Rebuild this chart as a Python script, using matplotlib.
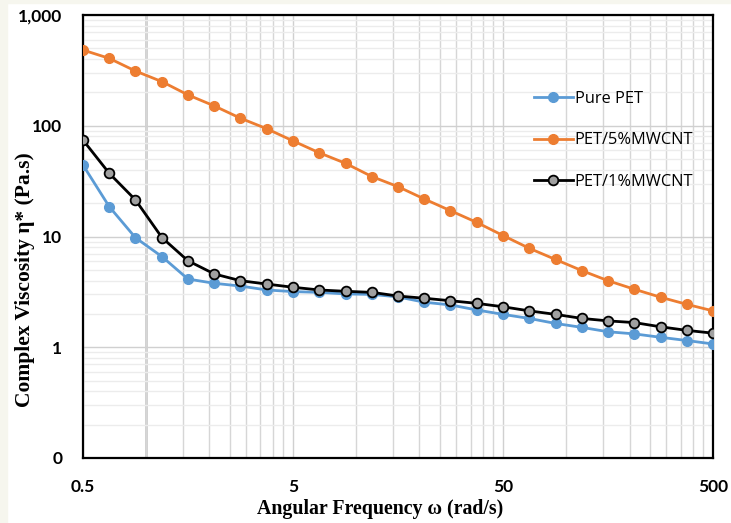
import matplotlib.pyplot as plt
import matplotlib.ticker as mticker
import numpy as np

# angular frequency (rad/s)
omega = [0.5, 0.667, 0.889, 1.19, 1.58, 2.11, 2.81, 3.75, 5.0, 6.67, 8.89, 11.9,
         15.8, 21.1, 28.1, 37.5, 50.0, 66.7, 88.9, 119, 158, 211, 281, 375, 500]

# complex viscosity (Pa.s)
pure_pet = [44.2, 18.6, 9.75, 6.57, 4.13, 3.78, 3.57, 3.29, 3.18, 3.13, 3.03, 3.0,
            2.85, 2.55, 2.41, 2.17, 1.98, 1.82, 1.64, 1.51, 1.38, 1.32, 1.23, 1.15, 1.07]
pet_5 = [483, 406, 312, 250, 190, 151, 117, 94, 73, 57, 45.8, 34.7,
         28.2, 21.8, 17.1, 13.4, 10.2, 7.82, 6.2, 4.91, 3.99, 3.34, 2.83, 2.44, 2.13]
pet_1 = [74.3, 37.2, 21.4, 9.75, 6.04, 4.59, 3.99, 3.72, 3.48, 3.29, 3.20, 3.13,
         2.90, 2.77, 2.63, 2.49, 2.32, 2.13, 1.98, 1.82, 1.73, 1.67, 1.53, 1.42, 1.34]

y_ticks = [0.1, 1, 10, 100, 1000]
y_labels = ["0", "1", "10", "100", "1,000"]
x_ticks = [0.5, 5, 50, 500]
x_labels = ["0.5", "5", "50", "500"]

fig = plt.figure(figsize=(7.31, 5.23), dpi=100)
fig.patch.set_facecolor("white")
# faint cream border like the source screenshot
fig.patches.append(plt.Rectangle((0, 0), 0.01, 1, transform=fig.transFigure,
                                 color="#f6f6ee", zorder=0))
fig.patches.append(plt.Rectangle((0, 0.994), 1, 0.006, transform=fig.transFigure,
                                 color="#f6f6ee", zorder=0))

ax = fig.add_axes([0.1135, 0.1243, 0.862, 0.847])
ax.set_xscale("log")
ax.set_yscale("log")
ax.set_xlim(0.5, 500)
ax.set_ylim(0.1, 1000)

ax.plot(omega, pure_pet, color="#5B9BD5", lw=2.0, marker="o", ms=7,
        mfc="#5B9BD5", mec="#5B9BD5", label="Pure PET", zorder=3)
ax.plot(omega, pet_5, color="#ED7D31", lw=2.0, marker="o", ms=7,
        mfc="#ED7D31", mec="#ED7D31", label="PET/5%MWCNT", zorder=3)
ax.plot(omega, pet_1, color="black", lw=2.0, marker="o", ms=7,
        mfc="#a0a0a0", mec="black", mew=1.3, label="PET/1%MWCNT", zorder=4)

ax.xaxis.set_major_locator(mticker.FixedLocator(x_ticks))
ax.xaxis.set_major_formatter(mticker.FixedFormatter(x_labels))
x_minor = [0.5 * d * k for d in (1, 10, 100) for k in range(2, 10)]
ax.xaxis.set_minor_locator(mticker.FixedLocator(x_minor))
ax.xaxis.set_minor_formatter(mticker.NullFormatter())

ax.yaxis.set_major_locator(mticker.FixedLocator(y_ticks))
ax.yaxis.set_major_formatter(mticker.FixedFormatter(y_labels))
y_minor = [d * k for d in (0.1, 1, 10, 100) for k in range(2, 10)]
ax.yaxis.set_minor_locator(mticker.FixedLocator(y_minor))
ax.yaxis.set_minor_formatter(mticker.NullFormatter())

ax.grid(True, which="major", axis="both", color="#d0d0d0", lw=1.0, zorder=0)
ax.grid(True, which="minor", axis="x", color="#d6d6d6", lw=1.0, zorder=0)
ax.grid(True, which="minor", axis="y", color="#ececec", lw=1.0, zorder=0)
# the x = 1 gridline is a touch heavier in the source
ax.axvline(1.0, color="#c4c4c4", lw=1.8, zorder=0.5)
ax.set_axisbelow(True)

ax.tick_params(which="both", length=0)
ax.tick_params(axis="x", pad=15)
ax.tick_params(axis="y", pad=15)
for lab in ax.get_xticklabels() + ax.get_yticklabels():
    lab.set_fontfamily("Lato")
    lab.set_fontweight("bold")
    lab.set_fontsize(12.5)

for s in ax.spines.values():
    s.set_color("black")
    s.set_linewidth(1.6)

ax.set_xlabel("Angular Frequency ω (rad/s)", family="Liberation Serif",
              fontweight="bold", fontsize=14.3)
ax.xaxis.set_label_coords(0.472, -0.093)
ax.set_ylabel("Complex Viscosity η* (Pa.s)", family="Liberation Serif",
              fontweight="bold", fontsize=15.5)
ax.yaxis.set_label_coords(-0.076, 0.402)

leg = ax.legend(loc="upper left", bbox_to_anchor=(0.692, 0.862), frameon=False,
                prop={"family": "Open Sans", "size": 11.8}, handlelength=2.4,
                handletextpad=0.1, labelspacing=1.55)

fig.savefig("out.png", dpi=100)
